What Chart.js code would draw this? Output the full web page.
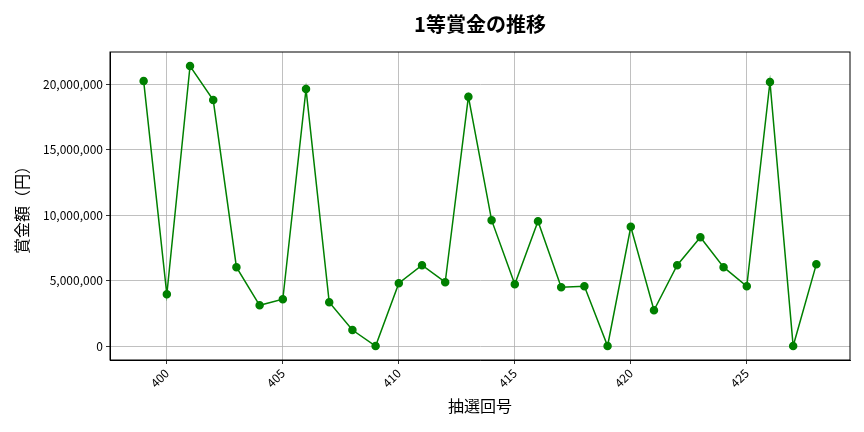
<!DOCTYPE html>
<html>
<head>
<meta charset="utf-8">
<script src="https://cdn.jsdelivr.net/npm/chart.js@4/dist/chart.umd.min.js"></script>
<style>
  html, body { margin: 0; padding: 0; background: #fff; }
  #wrap { width: 864px; height: 432px; }
</style>
</head>
<body>
<div id="wrap"><canvas id="prizeChart" width="864" height="432"></canvas></div>
<script>
const draws = [399, 400, 401, 402, 403, 404, 405, 406, 407, 408,
               409, 410, 411, 412, 413, 414, 415, 416, 417, 418,
               419, 420, 421, 422, 423, 424, 425, 426, 427, 428];
const prizes = [20240000, 3950000, 21380000, 18780000, 6020000, 3110000, 3570000, 19620000, 3340000, 1220000,
                0, 4790000, 6170000, 4870000, 19040000, 9610000, 4710000, 9530000, 4490000, 4560000,
                0, 9100000, 2730000, 6170000, 8310000, 6020000, 4560000, 20160000, 0, 6250000];
const xTicks = [400, 405, 410, 415, 420, 425];
const yTicks = [0, 5000000, 10000000, 15000000, 20000000];
const chartTitle = '1等賞金の推移';

const fontFamily = '"Noto Sans CJK JP", "Noto Sans", sans-serif';

// matplotlib-style box around the plot area, title centred over the axes
const frame = {
    id: 'frame',
    afterDraw(chart) {
        const a = chart.chartArea;
        const ctx = chart.ctx;
        ctx.save();
        ctx.strokeStyle = '#000';
        ctx.lineWidth = 1;
        ctx.strokeRect(a.left, a.top, a.right - a.left, a.bottom - a.top);
        ctx.fillStyle = '#000';
        ctx.font = 'bold 20px ' + fontFamily;
        ctx.textAlign = 'center';
        ctx.textBaseline = 'middle';
        ctx.fillText(chartTitle, (a.left + a.right) / 2, 24);
        ctx.restore();
    }
};

const span = Math.max(...prizes) - Math.min(...prizes);
const xSpan = draws[draws.length - 1] - draws[0];

new Chart(document.getElementById('prizeChart').getContext('2d'), {
    type: 'line',
    data: {
        datasets: [{
            data: draws.map((d, i) => ({ x: d, y: prizes[i] })),
            borderColor: '#008000',
            backgroundColor: '#008000',
            borderWidth: 1.5,
            pointRadius: 3.5,
            pointHoverRadius: 3.5,
            tension: 0
        }]
    },
    options: {
        responsive: false,
        animation: false,
        layout: { padding: { top: 52, right: 14, left: 0, bottom: 4 } },
        plugins: {
            legend: { display: false },
            tooltip: { enabled: false },
            title: { display: false }
        },
        scales: {
            x: {
                type: 'linear',
                min: draws[0] - xSpan * 0.05,
                max: draws[draws.length - 1] + xSpan * 0.05,
                afterBuildTicks: axis => { axis.ticks = xTicks.map(v => ({ value: v })); },
                ticks: {
                    color: '#000',
                    font: { family: fontFamily, size: 12 },
                    maxRotation: 45,
                    minRotation: 45,
                    padding: 2
                },
                grid: { color: '#b0b0b0', lineWidth: 0.8, tickColor: '#000', tickLength: 4 },
                border: { color: '#000' },
                title: {
                    display: true,
                    text: '抽選回号',
                    color: '#000',
                    font: { family: fontFamily, size: 16 },
                    padding: { top: 2, bottom: 12 }
                },
                afterFit: axis => { axis.height = 68; }
            },
            y: {
                min: -span * 0.05,
                max: Math.max(...prizes) + span * 0.05,
                afterBuildTicks: axis => { axis.ticks = yTicks.map(v => ({ value: v })); },
                ticks: {
                    color: '#000',
                    font: { family: fontFamily, size: 12 },
                    padding: 3,
                    callback: v => v.toLocaleString('en-US')
                },
                grid: { color: '#b0b0b0', lineWidth: 0.8, tickColor: '#000', tickLength: 4 },
                border: { color: '#000' },
                title: {
                    display: true,
                    text: '賞金額（円）',
                    color: '#000',
                    font: { family: fontFamily, size: 16 },
                    padding: { top: 12, bottom: 6 }
                },
                afterFit: axis => { axis.width = 110; }
            }
        }
    },
    plugins: [frame]
});
</script>
</body>
</html>
